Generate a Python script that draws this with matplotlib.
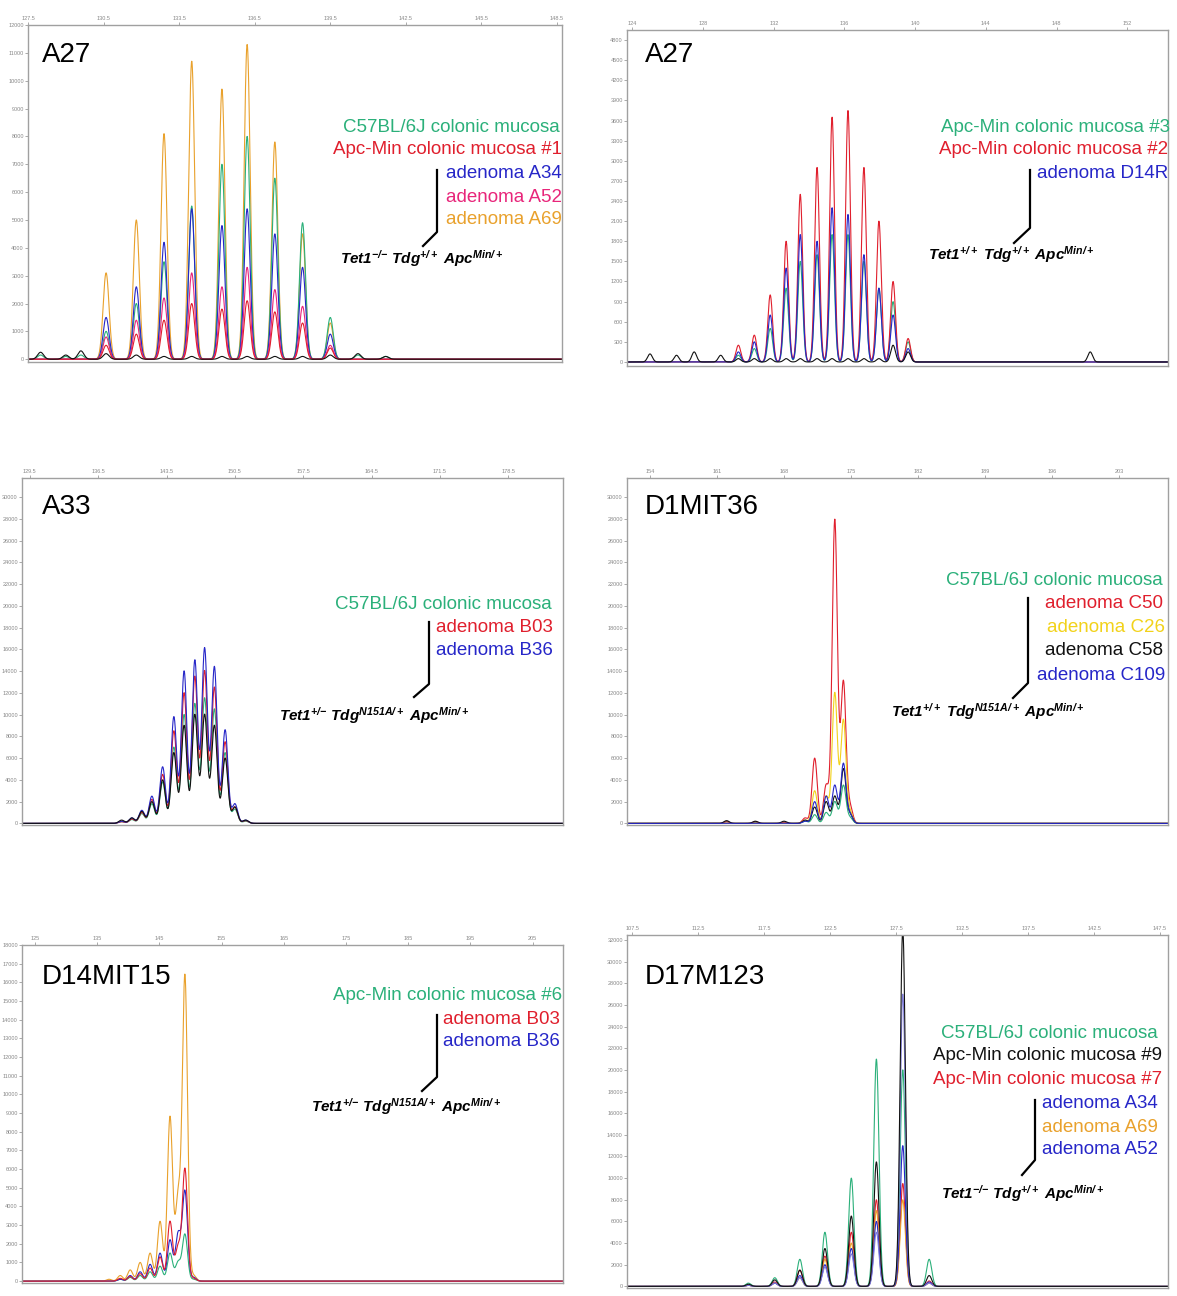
import matplotlib.pyplot as plt
import numpy as np
from matplotlib.lines import Line2D

plt.rcParams['font.family'] = ['Liberation Sans', 'DejaVu Sans']
plt.rcParams['mathtext.fontset'] = 'custom'
plt.rcParams['mathtext.rm'] = 'Liberation Sans'
plt.rcParams['mathtext.it'] = 'Liberation Sans:italic'
plt.rcParams['mathtext.bf'] = 'Liberation Sans:bold'
plt.rcParams['mathtext.bfit'] = 'Liberation Sans:italic:bold'

GREEN = '#2bb07a'
RED = '#e01f2d'
BLUE = '#2626c8'
LAVENDER = '#7d7ad8'
PINK = '#e8257a'
ORANGE = '#e9a12c'
YELLOW = '#f2d21a'
BLACK = '#111111'

# ---- A27, Tet1-/- (top left)
a27a_xticks = [127.5, 130.5, 133.5, 136.5, 139.5, 142.5, 145.5, 148.5]
a27a_yticks = list(range(0, 12001, 1000))
a27a_sizes = [128.0, 129.0, 129.6, 130.6, 131.8, 132.9, 134.0, 135.2, 136.2, 137.3, 138.4, 139.5, 140.6, 141.7]
a27a_orange = [0, 0, 0, 3100, 5000, 8100, 10700, 9700, 11300, 7800, 4500, 1300, 0, 0]
a27a_green = [150, 100, 150, 1000, 2000, 3500, 5500, 7000, 8000, 6500, 4900, 1500, 150, 100]
a27a_blue = [0, 0, 0, 1500, 2600, 4200, 5400, 4800, 5400, 4500, 3300, 900, 0, 0]
a27a_pink = [0, 0, 0, 800, 1400, 2200, 3100, 2600, 3300, 2500, 1900, 500, 0, 0]
a27a_red = [0, 0, 0, 500, 900, 1400, 2000, 1800, 2100, 1700, 1300, 400, 0, 0]
a27a_black = [250, 150, 300, 200, 150, 100, 100, 100, 100, 100, 100, 150, 200, 100]

# ---- A27, Tet1+/+ (top right)
a27b_xticks = [124, 128, 132, 136, 140, 144, 148, 152]
a27b_yticks = list(range(0, 4801, 300))
a27b_sizes = [125.0, 126.5, 127.5, 129.0, 130.0, 130.9, 131.8, 132.7, 133.5, 134.45, 135.3, 136.2, 137.1, 137.95, 138.75, 139.6, 149.9]
a27b_green = [0, 0, 0, 0, 100, 200, 500, 1100, 1500, 1600, 1900, 1900, 1500, 1100, 900, 300, 0]
a27b_red = [0, 0, 0, 0, 250, 400, 1000, 1800, 2500, 2900, 3650, 3750, 2900, 2100, 1200, 350, 0]
a27b_blue = [0, 0, 0, 0, 150, 300, 700, 1400, 1900, 1800, 2300, 2200, 1600, 1100, 700, 200, 0]
a27b_black = [120, 100, 150, 100, 50, 50, 50, 50, 50, 50, 50, 50, 50, 50, 250, 150, 150]

# ---- A33 (middle left)
a33_xticks = [129.5, 136.5, 143.5, 150.5, 157.5, 164.5, 171.5, 178.5]
a33_yticks = list(range(0, 30001, 2000))
a33_sizes = [138.9, 139.95, 140.97, 142.0, 143.1, 144.25, 145.3, 146.4, 147.4, 148.4, 149.5, 150.5, 151.6]
a33_green = [150, 350, 900, 1800, 3800, 7000, 10000, 11000, 11500, 10500, 6500, 1300, 200]
a33_red = [150, 400, 1000, 2200, 4500, 8500, 12000, 13500, 14000, 12500, 7500, 1500, 250]
a33_blue = [200, 500, 1200, 2500, 5200, 9800, 14000, 15000, 16100, 14400, 8600, 1800, 300]
a33_black = [300, 500, 1100, 2000, 4000, 6500, 9000, 10000, 10000, 9000, 6000, 1500, 300]

# ---- D1MIT36 (middle right)
d1_xticks = [154, 161, 168, 175, 182, 189, 196, 203]
d1_yticks = list(range(0, 30001, 2000))
d1_sizes = [162.0, 165.0, 168.0, 170.2, 171.2, 172.4, 173.3, 174.2, 174.9, 177.0]
d1_green = [150, 100, 100, 200, 800, 1000, 2000, 3500, 500, 0]
d1_red = [150, 150, 100, 500, 6000, 3500, 27900, 13000, 1500, 0]
d1_yellow = [0, 0, 0, 300, 3000, 2500, 12000, 9500, 1000, 0]
d1_black = [250, 200, 200, 300, 1500, 2000, 2500, 5000, 800, 0]
d1_blue = [0, 0, 0, 200, 2000, 2500, 3500, 5500, 800, 0]

# ---- D14MIT15 (bottom left)
d14_xticks = [125, 135, 145, 155, 165, 175, 185, 195, 205]
d14_yticks = list(range(0, 18001, 1000))
d14_sizes = [136.9, 138.7, 140.3, 141.9, 143.5, 145.1, 146.7, 148.0, 149.1, 150.5]
d14_green = [0, 100, 200, 300, 500, 800, 1500, 1000, 2500, 100]
d14_red = [0, 150, 250, 400, 700, 1300, 3200, 1800, 6000, 150]
d14_orange = [100, 300, 600, 1000, 1500, 3200, 8800, 4400, 16300, 300]
d14_blue = [0, 100, 300, 500, 900, 1500, 2200, 2500, 4800, 200]

# ---- D17M123 (bottom right)
d17_xticks = [107.5, 112.5, 117.5, 122.5, 127.5, 132.5, 137.5, 142.5, 147.5]
d17_yticks = list(range(0, 32001, 2000))
d17_sizes = [116.3, 118.3, 120.2, 122.1, 124.1, 126.0, 128.0, 130.0]
d17_green = [300, 800, 2500, 5000, 10000, 21000, 20000, 2500]
d17_black = [200, 600, 1500, 3500, 6500, 11500, 33000, 1000]
d17_red = [100, 400, 1500, 2800, 5000, 8000, 9500, 500]
d17_a34 = [100, 300, 1000, 2000, 3500, 6000, 13000, 400]
d17_a69 = [100, 300, 800, 2500, 4000, 7000, 8000, 300]
d17_a52 = [100, 300, 800, 1800, 3000, 5000, 27000, 300]

W, H = 1177, 1296
fig = plt.figure(figsize=(W / 100, H / 100), dpi=100)


def fx(px):
    return px / W


def fy(py):
    return 1 - py / H


def trace(x, sizes, heights, sigma):
    y = np.zeros_like(x)
    for s, h in zip(sizes, heights):
        y += h * np.exp(-0.5 * ((x - s) / sigma) ** 2)
    return y


def panel(box, xlim, xticks, xfmt, ylim, yticks, sizes, traces, width_px=2.6):
    l, t, r, b = box
    ax = fig.add_axes([fx(l), fy(b), (r - l) / W, (b - t) / H])
    x = np.linspace(xlim[0], xlim[1], 4000)
    sigma = width_px * (xlim[1] - xlim[0]) / (r - l)
    for color, heights in traces:
        ax.plot(x, trace(x, sizes, heights, sigma), color=color, lw=0.8)
    ax.set_xlim(*xlim)
    ax.set_ylim(*ylim)
    ax.set_xticks(xticks)
    ax.set_xticklabels([xfmt.format(v) for v in xticks])
    ax.set_yticks(yticks)
    ax.xaxis.tick_top()
    ax.tick_params(labelsize=4, colors='#888888', length=2, width=0.5, pad=1)
    for s in ax.spines.values():
        s.set_color('#a0a0a0')
        s.set_linewidth(1.0)
    return ax


def labels(title, title_x, title_y, items, geno, bracket):
    fig.text(fx(title_x), fy(title_y), title, fontsize=20, va='center', ha='left')
    for text, color, rx, py in items:
        fig.text(fx(rx), fy(py), text, color=color, fontsize=13.5, ha='right', va='center')
    gtext, gx, gy = geno
    fig.text(fx(gx), fy(gy), gtext, fontsize=11, ha='left', va='center')
    bx, by = zip(*bracket)
    fig.add_artist(Line2D([fx(v) for v in bx], [fy(v) for v in by],
                          transform=fig.transFigure, color='black', lw=1.6))


def geno(tet, tdg, apc):
    return (r'$\mathbfit{Tet1}^{\mathbfit{' + tet + r'}}\ \mathbfit{Tdg}^{\mathbfit{' + tdg +
            r'}}\ \mathbfit{Apc}^{\mathbfit{' + apc + r'}}$')


panel((28, 25, 562, 362), (127.5, 148.7), a27a_xticks, '{:.1f}', (-100, 12000), a27a_yticks, a27a_sizes,
      [(ORANGE, a27a_orange), (GREEN, a27a_green), (BLUE, a27a_blue), (PINK, a27a_pink),
       (RED, a27a_red), (BLACK, a27a_black)], width_px=3.0)
labels('A27', 42, 55,
       [('C57BL/6J colonic mucosa', GREEN, 560, 127),
        ('Apc-Min colonic mucosa #1', RED, 562, 150),
        ('adenoma A34', BLUE, 562, 174),
        ('adenoma A52', PINK, 562, 197),
        ('adenoma A69', ORANGE, 562, 219)],
       (geno('{-}/{-}', '+/+', 'Min/+'), 340, 259),
       [(437, 170), (437, 232), (423, 246)])

panel((627, 30, 1168, 366), (123.7, 154.3), a27b_xticks, '{:d}', (-60, 4950), a27b_yticks, a27b_sizes,
      [(GREEN, a27b_green), (RED, a27b_red), (BLUE, a27b_blue), (BLACK, a27b_black)], width_px=2.4)
labels('A27', 645, 55,
       [('Apc-Min colonic mucosa #3', GREEN, 1170, 127),
        ('Apc-Min colonic mucosa #2', RED, 1168, 150),
        ('adenoma D14R', BLUE, 1168, 174)],
       (geno('+/+', '+/+', 'Min/+'), 928, 255),
       [(1030, 170), (1030, 228), (1014, 243)])

panel((22, 478, 563, 825), (128.7, 184.1), a33_xticks, '{:.1f}', (-150, 31750), a33_yticks, a33_sizes,
      [(GREEN, a33_green), (RED, a33_red), (BLUE, a33_blue), (BLACK, a33_black)], width_px=2.8)
labels('A33', 42, 507,
       [('C57BL/6J colonic mucosa', GREEN, 552, 604),
        ('adenoma B03', RED, 553, 627),
        ('adenoma B36', BLUE, 553, 651)],
       (geno('+/{-}', 'N151A/+', 'Min/+'), 279, 716),
       [(429, 622), (429, 684), (414, 697)])

panel((627, 478, 1168, 825), (151.6, 208.1), d1_xticks, '{:d}', (-150, 31750), d1_yticks, d1_sizes,
      [(GREEN, d1_green), (RED, d1_red), (YELLOW, d1_yellow), (BLACK, d1_black), (BLUE, d1_blue)])
labels('D1MIT36', 645, 507,
       [('C57BL/6J colonic mucosa', GREEN, 1163, 581),
        ('adenoma C50', RED, 1163, 603),
        ('adenoma C26', YELLOW, 1165, 627),
        ('adenoma C58', BLACK, 1163, 651),
        ('adenoma C109', BLUE, 1165, 675)],
       (geno('+/+', 'N151A/+', 'Min/+'), 891, 712),
       [(1028, 598), (1028, 683), (1013, 698)])

panel((22, 945, 563, 1283), (122.9, 209.9), d14_xticks, '{:d}', (-100, 18000), d14_yticks, d14_sizes,
      [(GREEN, d14_green), (ORANGE, d14_orange), (BLUE, d14_blue), (RED, d14_red)])
labels('D14MIT15', 42, 977,
       [('Apc-Min colonic mucosa #6', GREEN, 562, 996),
        ('adenoma B03', RED, 560, 1019),
        ('adenoma B36', BLUE, 560, 1042)],
       (geno('+/{-}', 'N151A/+', 'Min/+'), 311, 1107),
       [(437, 1015), (437, 1077), (422, 1091)])

panel((627, 935, 1168, 1288), (107.1, 148.1), d17_xticks, '{:.1f}', (-150, 32460), d17_yticks, d17_sizes,
      [(GREEN, d17_green), (RED, d17_red), (ORANGE, d17_a69), (BLUE, d17_a34),
       (LAVENDER, d17_a52), (BLACK, d17_black)])
labels('D17M123', 645, 977,
       [('C57BL/6J colonic mucosa', GREEN, 1158, 1033),
        ('Apc-Min colonic mucosa #9', BLACK, 1162, 1056),
        ('Apc-Min colonic mucosa #7', RED, 1162, 1080),
        ('adenoma A34', BLUE, 1158, 1103),
        ('adenoma A69', ORANGE, 1158, 1127),
        ('adenoma A52', BLUE, 1158, 1150)],
       (geno('{-}/{-}', '+/+', 'Min/+'), 941, 1194),
       [(1035, 1100), (1035, 1160), (1022, 1175)])

fig.savefig('out.png', dpi=100)
